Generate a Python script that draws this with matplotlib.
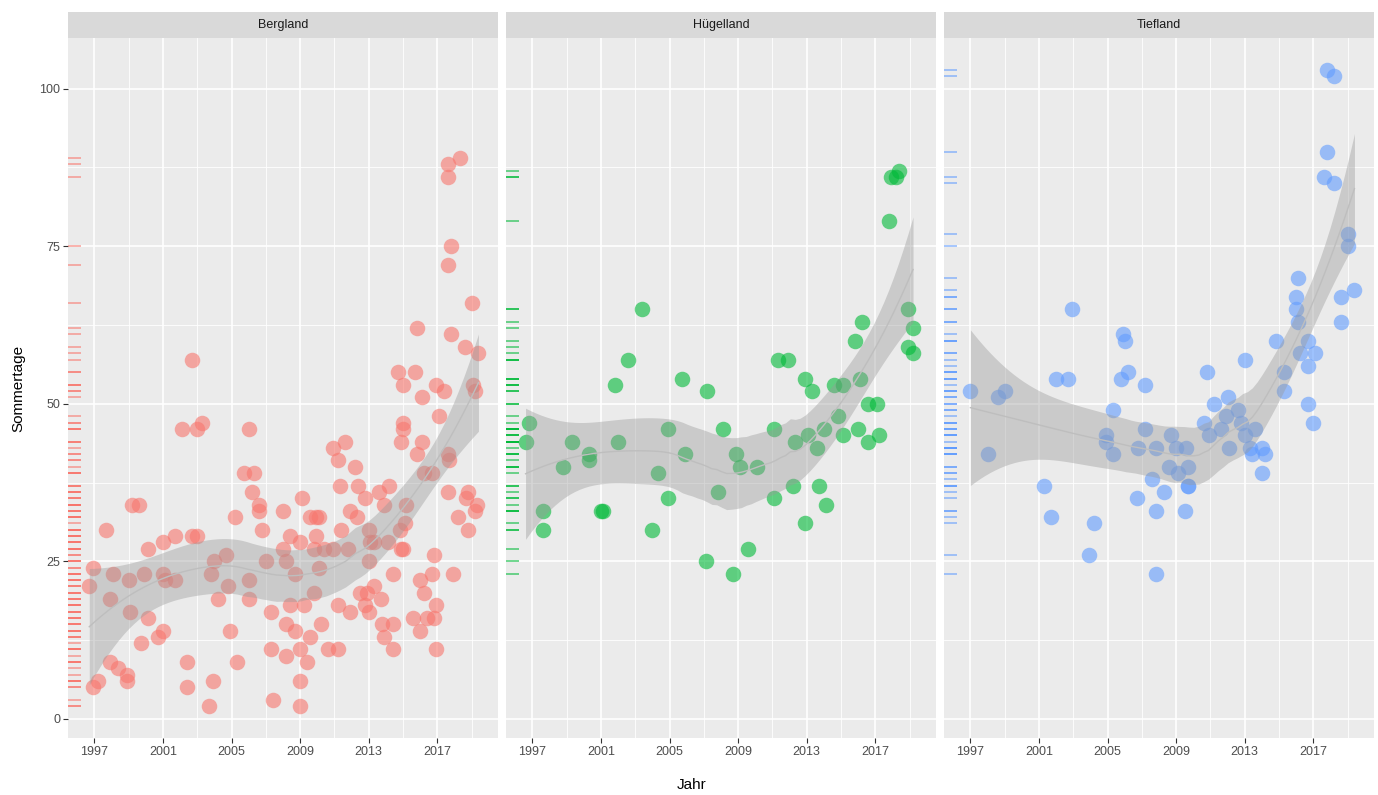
import numpy as np
import matplotlib.pyplot as plt
from matplotlib.patches import Rectangle

plt.rcParams["font.family"] = ["Liberation Sans", "DejaVu Sans"]

regions = ["Bergland", "Hügelland", "Tiefland"]
colors = ["#F8766D", "#00BA38", "#619CFF"]

berg_year = [
    2017.6, 2018.3, 2017.6, 2017.8, 2017.6, 2019.0, 2015.8, 2017.8, 2018.6, 2019.4,
    2014.7, 2015.7, 2015.0, 2016.9, 2017.4, 2019.1, 2019.2, 2016.1, 2017.1, 2015.0,
    2015.0, 2011.6, 2016.1, 2002.7, 2002.1, 2003.3, 2003.0, 2006.0,
    2014.9, 2015.8, 2017.6, 2017.7, 2010.9, 2011.2, 2012.2, 2011.3, 2012.4, 2012.8,
    2013.6, 2014.2, 2016.2, 2016.7, 2017.6, 2018.8, 2018.7, 2019.3, 2019.2, 2018.2,
    2018.8, 2009.1, 2008.0, 2011.9, 2012.3, 2013.9, 2015.2, 2015.1, 2009.6, 2009.9,
    2010.1, 2013.0, 2014.8, 2011.4, 2008.4, 2009.0, 2009.9, 2008.0, 2009.8, 2010.4,
    2010.9, 2011.8, 2013.1, 2013.3, 2014.1, 2014.9, 2015.0, 2008.2, 2008.7, 2010.1,
    2013.0, 2014.4, 2016.8, 2016.7, 2017.9, 2016.0, 2016.2, 2009.8, 2008.4, 2009.2,
    2011.2, 2011.9, 2012.5, 2012.9, 2013.3, 2013.7, 2012.8, 2013.0, 2016.9, 2016.8,
    2015.6, 2016.4, 2016.0, 2013.8, 2014.4, 2013.9, 2008.2, 2008.7, 2010.2, 2009.6,
    2014.4, 2016.9, 2010.6, 2011.2, 2008.2, 2009.0, 2009.4, 2009.0, 2009.0,
    2005.7, 2006.3, 2006.2, 2006.6, 2006.6, 1999.2, 1999.6, 1997.7, 2005.2, 2006.8,
    2000.1, 2001.0, 2001.7, 2002.7, 2003.0, 2004.0, 2004.7, 2007.0, 1996.9, 1996.7,
    1998.1, 1999.0, 1999.9, 2001.0, 2001.1, 2001.7, 2003.8, 2004.8, 2006.0, 1997.9,
    2004.2, 2006.0, 1999.1, 2007.3, 2000.1, 2004.9, 2001.0, 2000.7, 1999.7, 2007.3,
    1997.9, 1998.4, 1998.9, 1998.9, 2002.4, 2005.3, 1997.2, 1996.9, 2002.4, 2003.9,
    2003.7, 2007.4,
]
berg_days = [
    88, 89, 86, 75, 72, 66, 62, 61, 59, 58,
    55, 55, 53, 53, 52, 53, 52, 51, 48, 47,
    46, 44, 44, 57, 46, 47, 46, 46,
    44, 42, 42, 41, 43, 41, 40, 37, 37, 35,
    36, 37, 39, 39, 36, 36, 35, 34, 33, 32,
    30, 35, 33, 33, 32, 34, 34, 31, 32, 32,
    32, 30, 30, 30, 29, 28, 29, 27, 27, 27,
    27, 27, 28, 28, 28, 27, 27, 25, 23, 24,
    25, 23, 26, 23, 23, 22, 20, 20, 18, 18,
    18, 17, 20, 20, 21, 19, 18, 17, 18, 16,
    16, 16, 14, 15, 15, 13, 15, 14, 15, 13,
    11, 11, 11, 11, 10, 11, 9, 6, 2,
    39, 39, 36, 34, 33, 34, 34, 30, 32, 30,
    27, 28, 29, 29, 29, 25, 26, 25, 24, 21,
    23, 22, 23, 23, 22, 22, 23, 21, 22, 19,
    19, 19, 17, 17, 16, 14, 14, 13, 12, 11,
    9, 8, 7, 6, 9, 9, 6, 5, 5, 6,
    2, 3,
]

hug_year = [
    2003.4, 2002.6, 2001.8, 2005.7, 2007.2, 1996.8, 1996.6, 1999.3, 2004.9, 2002.0,
    2000.3, 2000.3, 1998.8, 2005.9, 2008.1, 2017.9, 2018.4, 2018.2, 2017.8, 2018.9,
    2019.2, 2018.9, 2019.2, 2016.2, 2015.8, 2011.3, 2011.9, 2012.9, 2013.3, 2014.6,
    2015.1, 2016.1, 2016.6, 2017.1, 2014.8, 2014.0, 2016.0, 2015.1, 2017.2, 2016.6,
    2013.1, 2012.3, 2013.6, 2011.1, 2004.3, 2008.9, 2009.1, 2010.1, 2012.2, 2013.7,
    2014.1, 2011.1, 2012.9, 2007.8, 2004.9, 1997.6, 1997.6, 2001.0, 2001.1, 2004.0,
    2007.1, 2008.7, 2009.6,
]
hug_days = [
    65, 57, 53, 54, 52, 47, 44, 44, 46, 44,
    42, 41, 40, 42, 46, 86, 87, 86, 79, 65,
    62, 59, 58, 63, 60, 57, 57, 54, 52, 53,
    53, 54, 50, 50, 48, 46, 46, 45, 45, 44,
    45, 44, 43, 46, 39, 42, 40, 40, 37, 37,
    34, 35, 31, 36, 35, 33, 30, 33, 33, 30,
    25, 23, 27,
]

tief_year = [
    2002.9, 2005.9, 2006.0, 2017.8, 2018.2, 2017.8, 2017.6, 2018.2, 2019.0, 2019.0,
    2019.4, 2018.6, 2016.1, 2016.0, 2016.0, 2016.1, 2018.6, 2014.8, 2016.7, 2016.2,
    2017.1, 2013.0, 1997.0, 1998.6, 1999.0, 2002.0, 2002.7, 2005.8, 2006.2, 2007.2,
    2005.3, 2007.2, 2004.9, 2004.9, 2005.3, 2006.8, 2007.8, 1998.0, 2001.3, 2007.6,
    2006.7, 2007.8, 2001.7, 2004.2, 2003.9, 2007.8, 2010.8, 2015.3, 2015.3, 2016.7,
    2016.7, 2017.0, 2011.2, 2012.0, 2011.9, 2012.6, 2012.8, 2010.6, 2011.6, 2010.9,
    2013.6, 2013.0, 2008.7, 2013.3, 2014.0, 2013.4, 2014.2, 2014.0, 2012.1, 2009.0,
    2009.6, 2008.6, 2009.7, 2009.1, 2009.7, 2009.7, 2008.3, 2009.5,
]
tief_days = [
    65, 61, 60, 103, 102, 90, 86, 85, 77, 75,
    68, 67, 70, 67, 65, 63, 63, 60, 60, 58,
    58, 57, 52, 51, 52, 54, 54, 54, 55, 53,
    49, 46, 45, 44, 42, 43, 43, 42, 37, 38,
    35, 33, 32, 31, 26, 23, 55, 55, 52, 56,
    50, 47, 50, 51, 48, 49, 47, 47, 46, 45,
    46, 45, 45, 43, 43, 42, 42, 39, 43, 43,
    43, 40, 40, 39, 37, 37, 36, 33,
]

x_breaks = [1997, 2001, 2005, 2009, 2013, 2017]
x_minor = [1999, 2003, 2007, 2011, 2015, 2019]
y_breaks = [0, 25, 50, 75, 100]
y_minor = [12.5, 37.5, 62.5, 87.5]


def t975(df):
    # Cornish-Fisher approximation of the t quantile
    z = 1.959964
    g1 = (z**3 + z) / 4
    g2 = (5 * z**5 + 16 * z**3 + 3 * z) / 96
    g3 = (3 * z**7 + 19 * z**5 + 17 * z**3 - 15 * z) / 384
    return z + g1 / df + g2 / df**2 + g3 / df**3


def loess_band(x, y, x_new, span=0.75):
    x = np.asarray(x, float)
    y = np.asarray(y, float)
    n = len(x)
    q = int(np.floor(n * span))

    def row(x0):
        d = np.abs(x - x0)
        h = np.sort(d)[q - 1] * (1 + 1e-9)
        w = (1 - np.clip(d / h, 0, 1) ** 3) ** 3
        X = np.column_stack([np.ones(n), x - x0, (x - x0) ** 2])
        XtW = X.T * w
        return np.linalg.solve(XtW @ X, XtW)[0]

    L = np.array([row(v) for v in x])
    resid = y - L @ y
    IL = np.eye(n) - L
    M = IL.T @ IL
    d1 = np.trace(M)
    d2 = np.trace(M @ M)
    sigma = np.sqrt(np.sum(resid**2) / d1)
    Ln = np.array([row(v) for v in x_new])
    fit = Ln @ y
    se = sigma * np.sqrt(np.sum(Ln**2, axis=1))
    tq = t975(d1**2 / d2)
    return fit, fit - tq * se, fit + tq * se


panels = [(berg_year, berg_days), (hug_year, hug_days), (tief_year, tief_days)]

all_x = np.concatenate([p[0] for p in panels])
all_y = np.concatenate([p[1] for p in panels])
xr = all_x.max() - all_x.min()
yr = all_y.max() - all_y.min()
xlim = (all_x.min() - 0.05 * xr, all_x.max() + 0.05 * xr)
ylim = (all_y.min() - 0.05 * yr, all_y.max() + 0.05 * yr)

W, H = 1378, 795
fig = plt.figure(figsize=(W / 100, H / 100), dpi=100)

lefts = [68, 506, 944]
pw, top, bottom = 430, 38, 738
strip_h = 26

for i, (name, col, (xs, ys)) in enumerate(zip(regions, colors, panels)):
    ax = fig.add_axes([lefts[i] / W, (H - bottom) / H, pw / W, (bottom - top) / H])
    ax.set_facecolor("#EBEBEB")
    for s in ax.spines.values():
        s.set_visible(False)
    ax.set_xlim(xlim)
    ax.set_ylim(ylim)

    for v in x_minor:
        ax.axvline(v, color="white", lw=0.6, zorder=0)
    for v in y_minor:
        ax.axhline(v, color="white", lw=0.6, zorder=0)
    for v in x_breaks:
        ax.axvline(v, color="white", lw=1.2, zorder=0.5)
    for v in y_breaks:
        ax.axhline(v, color="white", lw=1.2, zorder=0.5)

    ax.scatter(xs, ys, s=125, color=col, alpha=0.6, linewidths=0, zorder=2)
    ax.hlines(ys, 0, 0.03, transform=ax.get_yaxis_transform(),
              color=col, alpha=0.7, lw=1.1, zorder=2)

    grid = np.linspace(min(xs), max(xs), 80)
    fit, lo, hi = loess_band(xs, ys, grid)
    ax.fill_between(grid, lo, hi, color="#999999", alpha=0.4, lw=0, zorder=3)
    ax.plot(grid, fit, color="#BEBEBE", lw=1.0, zorder=4)

    ax.set_xticks(x_breaks)
    ax.tick_params(axis="x", length=3.5, width=0.8, color="#333333",
                   labelsize=9, labelcolor="#4D4D4D", pad=2)
    ax.set_yticks(y_breaks)
    if i == 0:
        ax.tick_params(axis="y", length=3.5, width=0.8, color="#333333",
                       labelsize=9, labelcolor="#4D4D4D", pad=2)
    else:
        ax.tick_params(axis="y", length=0, labelleft=False)

    sh = strip_h / (bottom - top)
    ax.add_patch(Rectangle((0, 1), 1, sh, transform=ax.transAxes,
                           facecolor="#D9D9D9", edgecolor="none", clip_on=False))
    ax.text(0.5, 1 + sh / 2, name, transform=ax.transAxes, ha="center",
            va="center", fontsize=9, color="#1A1A1A")

fig.text(692 / W, 1 - 785 / H, "Jahr", ha="center", va="center", fontsize=11)
fig.text(18 / W, 1 - (top + bottom) / 2 / H, "Sommertage", rotation=90,
         ha="center", va="center", fontsize=11)

fig.savefig("out.png", dpi=100)
